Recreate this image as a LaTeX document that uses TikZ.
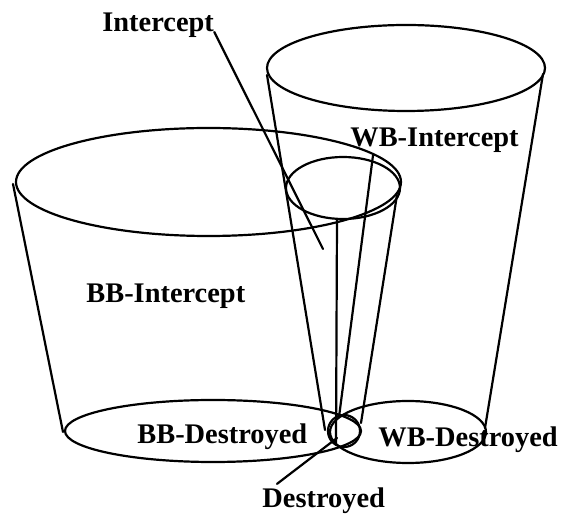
\documentclass[tikz,border=0pt]{standalone}
\usepackage{fontspec}
\setmainfont{Liberation Serif}
\usetikzlibrary{positioning}

\tikzset{
  rim/.style={line width=1.1pt},
  side/.style={line width=1.1pt},
  tag/.style={font=\fontsize{14.2}{16}\selectfont\bfseries, inner sep=0pt, anchor=base west},
}

\begin{document}
\begin{tikzpicture}[x=0.5pt,y=-0.5pt,line join=round,line cap=round]
  \useasboundingbox (0,0) rectangle (562,517);

  % Define nodes
  \node[tag] (int)    at (102,32)  {Intercept};
  \node[tag] (wbint)  at (350,147) {WB-Intercept};
  \node[tag] (bbint)  at (86,303)  {BB-Intercept};
  \node[tag] (bbdes)  at (137,444) {BB-Destroyed};
  \node[tag] (wbdes)  at (378,447) {WB-Destroyed};
  \node[tag] (des)    at (262,508) {Destroyed};

  \coordinate (bbtop) at (208.5,182);
  \coordinate (wbtop) at (406,68);
  \coordinate (ctop)  at (343,188);
  \coordinate (bbbot) at (213,431);
  \coordinate (wbbot) at (408,432);
  \coordinate (cbot)  at (344,431);

  % Rims
  \draw[rim] (bbtop) ellipse [x radius=192.5, y radius=54];
  \draw[rim] (wbtop) ellipse [x radius=139, y radius=43];
  \draw[rim] (ctop)  ellipse [x radius=57, y radius=31];
  \draw[rim] (bbbot) ellipse [x radius=148, y radius=31];
  \draw[rim] (wbbot) ellipse [x radius=78, y radius=31];
  \draw[rim] (cbot)  ellipse [x radius=16, y radius=16];

  % Sides
  \coordinate (bbl1) at (13,184);  \coordinate (bbl2) at (63,432);
  \coordinate (bbr1) at (397,195); \coordinate (bbr2) at (361,423);
  \coordinate (wbl1) at (267,75);  \coordinate (wbl2) at (325,430);
  \coordinate (wbr1) at (543,74);  \coordinate (wbr2) at (485,428);
  \coordinate (cv1)  at (337,220); \coordinate (cv2)  at (336,445);
  \draw[side] (bbl1) -- (bbl2);
  \draw[side] (bbr1) -- (bbr2);
  \draw[side] (wbl1) -- (wbl2);
  \draw[side] (wbr1) -- (wbr2);
  \draw[side] (cv1) -- (cv2);

  % Connect the labels
  \coordinate (intend) at (323,249);
  \coordinate (wbend)  at (339,417);
  \coordinate (desend) at (337,438);
  \draw[side] (int.base east) -- (intend);
  \draw[side] ([xshift=11.5pt,yshift=-1pt]wbint.south west) -- (wbend);
  \draw[side] ([xshift=7.5pt,yshift=2pt]des.north west) -- (desend);
\end{tikzpicture}
\end{document}
